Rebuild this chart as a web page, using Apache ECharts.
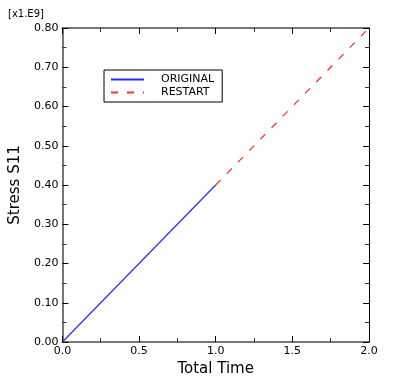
<!DOCTYPE html>
<html><head><meta charset="utf-8">
<script src="https://cdn.jsdelivr.net/npm/echarts@6/dist/echarts.min.js"></script>
<style>html,body{margin:0;padding:0;background:#fff}#c{width:393px;height:388px}</style>
</head><body><div id="c"></div>
<script>
const originalTime = [0, 1.0];
const originalStress = [0, 0.40];
const restartTime = [1.0, 2.0];
const restartStress = [0.40, 0.80];
const seriesNames = ['ORIGINAL', 'RESTART'];
const xTitle = 'Total Time';
const yTitle = 'Stress S11';
const scaleLabel = '[x1.E9]';

const chart = echarts.init(document.getElementById('c'));
const font = 'DejaVu Sans';
const grid = {left: 62, top: 28, right: 24, bottom: 46};
const tickCommon = {inside: true, length: 6, lineStyle: {color: '#000', width: 1}};
const minorCommon = {show: true, splitNumber: 2, length: 4, lineStyle: {color: '#333', width: 1}};
const axisLineCommon = {show: true, onZero: false, lineStyle: {color: '#777', width: 2}};
chart.setOption({
  animation: false,
  grid: grid,
  graphic: [{type: 'text', left: 8, top: 9, style: {text: scaleLabel, font: '10px ' + font, fill: '#000'}}],
  legend: {
    orient: 'vertical', left: 104, top: 70, width: 119,
    data: seriesNames, itemWidth: 33, itemHeight: 10, itemGap: 2,
    padding: [4, 8, 4, 6],
    borderColor: '#000', borderWidth: 1, backgroundColor: '#fff',
    itemStyle: {opacity: 0},
    textStyle: {fontFamily: font, fontSize: 11, color: '#000', padding: [0, 0, 0, 12]}
  },
  xAxis: [
    {type: 'value', min: 0, max: 2, interval: 0.5, position: 'bottom',
     name: xTitle, nameLocation: 'middle', nameGap: 20,
     nameTextStyle: {fontFamily: font, fontSize: 15, color: '#000'},
     axisLine: axisLineCommon, axisTick: tickCommon, minorTick: minorCommon,
     splitLine: {show: false},
     axisLabel: {fontFamily: font, fontSize: 11, color: '#000', margin: 4,
       formatter: v => v.toFixed(1)}},
    {type: 'value', min: 0, max: 2, interval: 0.5, position: 'top',
     axisLine: axisLineCommon, axisTick: tickCommon, minorTick: minorCommon,
     splitLine: {show: false}, axisLabel: {show: false}}
  ],
  yAxis: [
    {type: 'value', min: 0, max: 0.8, interval: 0.1, position: 'left',
     name: yTitle, nameLocation: 'middle', nameGap: 38, nameRotate: 90,
     nameTextStyle: {fontFamily: font, fontSize: 15, color: '#000'},
     axisLine: axisLineCommon, axisTick: tickCommon, minorTick: minorCommon,
     splitLine: {show: false},
     axisLabel: {fontFamily: font, fontSize: 11, color: '#000', margin: 4,
       formatter: v => v.toFixed(2)}},
    {type: 'value', min: 0, max: 0.8, interval: 0.1, position: 'right',
     axisLine: {show: true, onZero: false, lineStyle: {color: '#000', width: 1}}, axisTick: tickCommon, minorTick: minorCommon,
     splitLine: {show: false}, axisLabel: {show: false}}
  ],
  series: [
    {name: seriesNames[0], type: 'line', symbol: 'none', xAxisIndex: 0, yAxisIndex: 0,
     data: originalTime.map((t, i) => [t, originalStress[i]]),
     lineStyle: {color: '#2a2aff', width: 1.2, type: 'solid'}, itemStyle: {color: '#2a2aff'}},
    {name: seriesNames[1], type: 'line', symbol: 'none', xAxisIndex: 0, yAxisIndex: 0,
     data: restartTime.map((t, i) => [t, restartStress[i]]),
     lineStyle: {color: '#ff2a2a', width: 1.2, type: [7, 9]}, itemStyle: {color: '#ff2a2a'}}
  ]
});
</script></body></html>
